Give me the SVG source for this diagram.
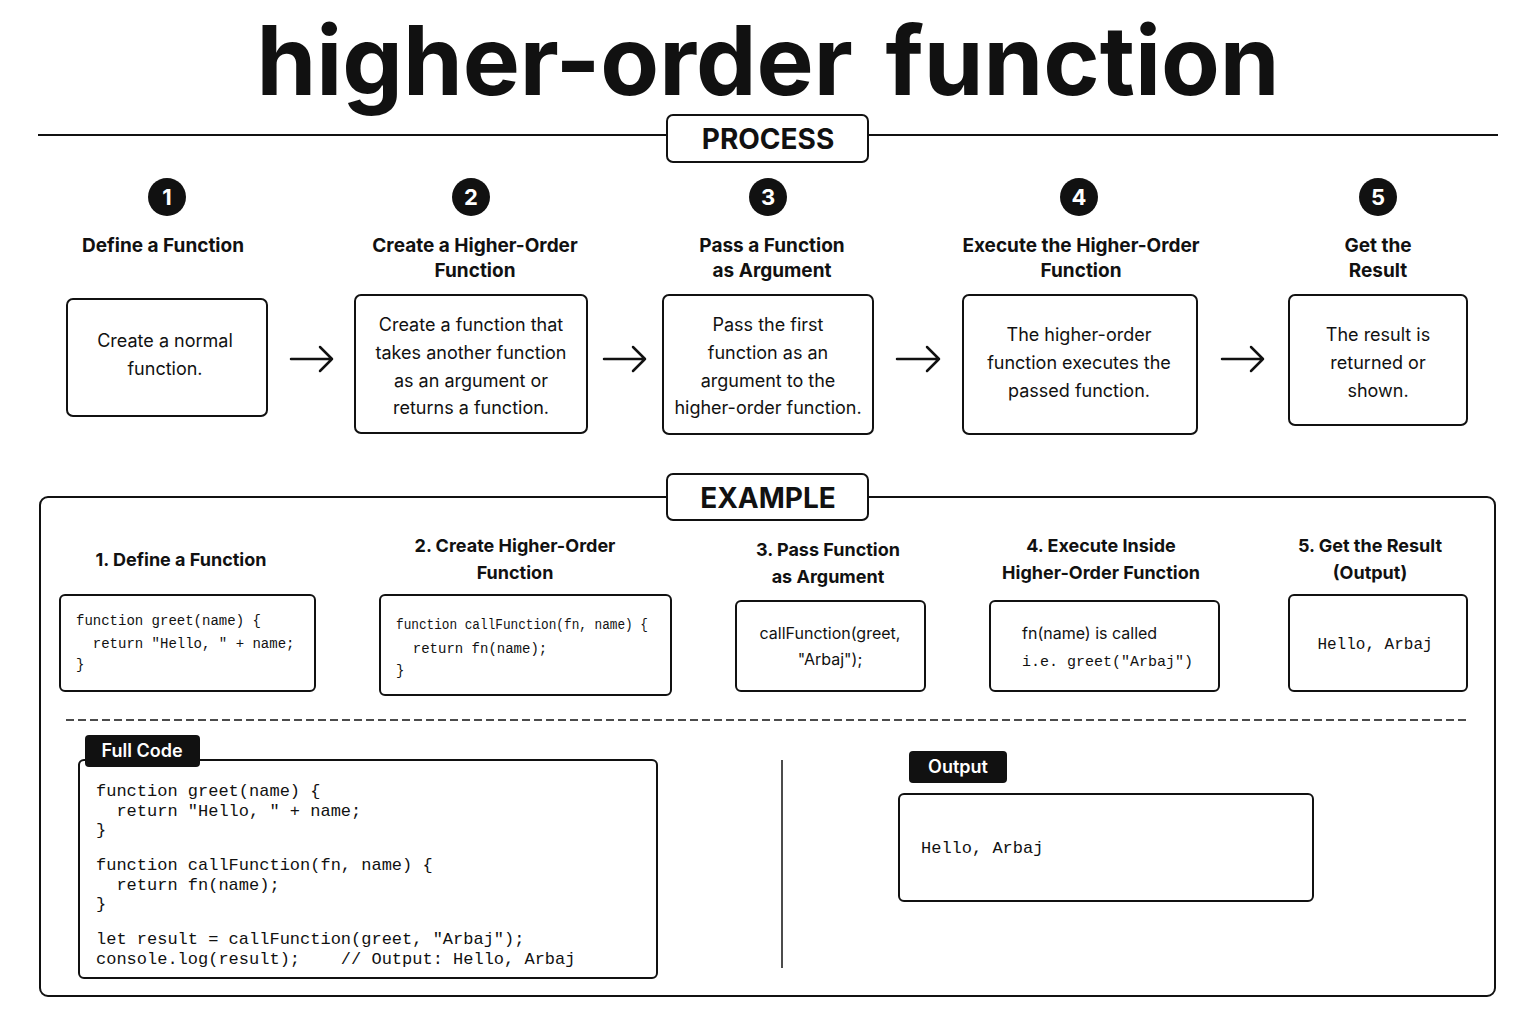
<svg xmlns="http://www.w3.org/2000/svg" width="1536" height="1024" viewBox="0 0 1536 1024">
<defs>
<style>
.b{fill:#fff;stroke:#111;stroke-width:2}
.t{font-family:"Inter","Noto Sans",sans-serif;fill:#111;text-anchor:middle}
.h{font-size:19px;font-weight:700}
.p{font-size:18px}
.m{font-family:"Liberation Mono","DejaVu Sans Mono",monospace;fill:#111;white-space:pre}
.a{stroke:#111;stroke-width:2.5;fill:none;stroke-linecap:round;stroke-linejoin:round}
.n{font-family:"Inter",sans-serif;font-size:22px;font-weight:700;fill:#fff;text-anchor:middle}
</style>
</defs>
<rect width="1536" height="1024" fill="#fff"/>
<text x="768" y="95" class="t" style="font-size:96px;font-weight:700;word-spacing:10px">higher-order function</text>
<line x1="38" y1="135" x2="1498" y2="135" stroke="#111" stroke-width="2"/>
<g id="process-label"><rect x="667" y="115" width="201" height="47" rx="6" class="b"/><text x="768" y="149" class="t" style="font-size:28px;font-weight:700">PROCESS</text></g>
<g id="step1"><circle cx="167" cy="197" r="19" fill="#111"/><text x="167" y="205" class="n">1</text>
<text x="163" y="252" class="t h">Define a Function</text>
<rect x="67" y="299" width="200" height="117" rx="6" class="b"/>
<text x="165" y="347" class="t p">Create a normal</text><text x="165" y="375" class="t p">function.</text></g>
<g id="step2"><circle cx="471" cy="197" r="19" fill="#111"/><text x="471" y="205" class="n">2</text>
<text x="475" y="252" class="t h">Create a Higher-Order</text><text x="475" y="277" class="t h">Function</text>
<rect x="355" y="295" width="232" height="138" rx="6" class="b"/>
<text x="471" y="331" class="t p">Create a function that</text><text x="471" y="359" class="t p">takes another function</text><text x="471" y="387" class="t p">as an argument or</text><text x="471" y="414" class="t p">returns a function.</text></g>
<g id="step3"><circle cx="768" cy="197" r="19" fill="#111"/><text x="768" y="205" class="n">3</text>
<text x="772" y="252" class="t h">Pass a Function</text><text x="772" y="277" class="t h">as Argument</text>
<rect x="663" y="295" width="210" height="139" rx="6" class="b"/>
<text x="768" y="331" class="t p">Pass the first</text><text x="768" y="359" class="t p">function as an</text><text x="768" y="387" class="t p">argument to the</text><text x="768" y="414" class="t p">higher-order function.</text></g>
<g id="step4"><circle cx="1079" cy="197" r="19" fill="#111"/><text x="1079" y="205" class="n">4</text>
<text x="1081" y="252" class="t h">Execute the Higher-Order</text><text x="1081" y="277" class="t h">Function</text>
<rect x="963" y="295" width="234" height="139" rx="6" class="b"/>
<text x="1079" y="341" class="t p">The higher-order</text><text x="1079" y="369" class="t p">function executes the</text><text x="1079" y="397" class="t p">passed function.</text></g>
<g id="step5"><circle cx="1378" cy="197" r="19" fill="#111"/><text x="1378" y="205" class="n">5</text>
<text x="1378" y="252" class="t h">Get the</text><text x="1378" y="277" class="t h">Result</text>
<rect x="1289" y="295" width="178" height="130" rx="6" class="b"/>
<text x="1378" y="341" class="t p">The result is</text><text x="1378" y="369" class="t p">returned or</text><text x="1378" y="397" class="t p">shown.</text></g>
<g id="connectors">
<path class="a" d="M291 359H332M320 347L332 359L320 371"/>
<path class="a" d="M604 359H645M633 347L645 359L633 371"/>
<path class="a" d="M897 359H939M927 347L939 359L927 371"/>
<path class="a" d="M1222 359H1263M1251 347L1263 359L1251 371"/>
<path class="a" d="M329 646H366M356 636L366 646L356 656"/>
<path class="a" d="M686 646H722M712 636L722 646L712 656"/>
<path class="a" d="M940 646H976M966 636L976 646L966 656"/>
<path class="a" d="M1237 646H1274M1264 636L1274 646L1264 656"/>
</g>
<rect x="40" y="497" width="1455" height="499" rx="8" class="b"/>
<g id="example-label"><rect x="667" y="474" width="201" height="46" rx="6" class="b"/><text x="768" y="508" class="t" style="font-size:28px;font-weight:700">EXAMPLE</text></g>
<g id="ex1"><text x="181" y="566" class="t h" style="font-size:18px">1. Define a Function</text>
<rect x="60" y="595" width="255" height="96" rx="5" class="b"/>
<text x="76" y="625" class="m" font-size="14">function greet(name) {</text><text x="76" y="648" class="m" font-size="14">  return "Hello, " + name;</text><text x="76" y="669" class="m" font-size="14">}</text></g>
<g id="ex2"><text x="515" y="552" class="t h" style="font-size:18px">2. Create Higher-Order</text><text x="515" y="579" class="t h" style="font-size:18px">Function</text>
<rect x="380" y="595" width="291" height="100" rx="5" class="b"/>
<text x="396" y="629" class="m" font-size="14" textLength="252" lengthAdjust="spacingAndGlyphs">function callFunction(fn, name) {</text><text x="396" y="653" class="m" font-size="14">  return fn(name);</text><text x="396" y="675" class="m" font-size="14">}</text></g>
<g id="ex3"><text x="828" y="556" class="t h" style="font-size:18px">3. Pass Function</text><text x="828" y="583" class="t h" style="font-size:18px">as Argument</text>
<rect x="736" y="601" width="189" height="90" rx="5" class="b"/>
<text x="830" y="639" class="t" font-size="16">callFunction(greet,</text><text x="830" y="665" class="t" font-size="16">"Arbaj");</text></g>
<g id="ex4"><text x="1101" y="552" class="t h" style="font-size:18px">4. Execute Inside</text><text x="1101" y="579" class="t h" style="font-size:18px">Higher-Order Function</text>
<rect x="990" y="601" width="229" height="90" rx="5" class="b"/>
<text x="1022" y="639" class="t" font-size="16" style="text-anchor:start">fn(name) is called</text><text x="1022" y="666" class="m" font-size="15">i.e. greet("Arbaj")</text></g>
<g id="ex5"><text x="1370" y="552" class="t h" style="font-size:18px">5. Get the Result</text><text x="1370" y="579" class="t h" style="font-size:18px">(Output)</text>
<rect x="1289" y="595" width="178" height="96" rx="5" class="b"/>
<text x="1375" y="649" class="m" font-size="16" text-anchor="middle">Hello, Arbaj</text></g>
<line x1="66" y1="720" x2="1470" y2="720" stroke="#111" stroke-width="1.5" stroke-dasharray="8,4"/>
<g id="full-code">
<rect x="79" y="760" width="578" height="218" rx="5" class="b"/>
<rect x="85" y="735" width="115" height="32" rx="4" fill="#111"/>
<text x="142" y="757" class="n" style="font-size:18px;font-weight:600">Full Code</text>
<text x="96" y="796" class="m" font-size="17">function greet(name) {</text>
<text x="96" y="816" class="m" font-size="17">  return "Hello, " + name;</text>
<text x="96" y="835" class="m" font-size="17">}</text>
<text x="96" y="870" class="m" font-size="17">function callFunction(fn, name) {</text>
<text x="96" y="890" class="m" font-size="17">  return fn(name);</text>
<text x="96" y="909" class="m" font-size="17">}</text>
<text x="96" y="944" class="m" font-size="17">let result = callFunction(greet, "Arbaj");</text>
<text x="96" y="964" class="m" font-size="17">console.log(result);    // Output: Hello, Arbaj</text>
</g>
<line x1="782" y1="760" x2="782" y2="968" stroke="#111" stroke-width="1.5"/>
<g id="output">
<rect x="909" y="751" width="98" height="32" rx="4" fill="#111"/>
<text x="958" y="773" class="n" style="font-size:18px;font-weight:600">Output</text>
<rect x="899" y="794" width="414" height="107" rx="5" class="b"/>
<text x="921" y="853" class="m" font-size="17">Hello, Arbaj</text>
</g>
</svg>
